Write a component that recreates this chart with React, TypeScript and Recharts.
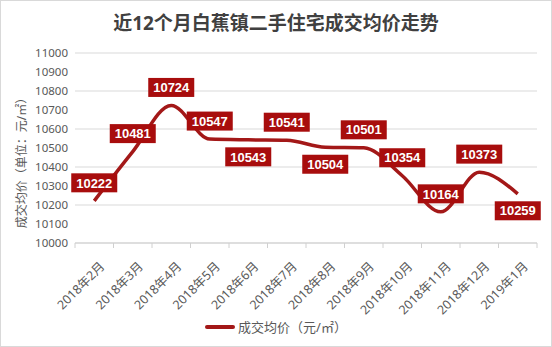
import { CartesianGrid, LabelList, Legend, Line, LineChart, XAxis, YAxis } from 'recharts'

const months = [
  '2018年2月', '2018年3月', '2018年4月', '2018年5月', '2018年6月', '2018年7月',
  '2018年8月', '2018年9月', '2018年10月', '2018年11月', '2018年12月', '2019年1月',
]
const prices = [10222, 10481, 10724, 10547, 10543, 10541, 10504, 10501, 10354, 10164, 10373, 10259]
const yTicks = [10000, 10100, 10200, 10300, 10400, 10500, 10600, 10700, 10800, 10900, 11000]

// which labels sit under the point
const labelsBelow = [4, 6, 11]

const RED = '#a80d0d'
const LINE = '#a31818'
const FONT = "'Noto Sans', 'Noto Sans CJK SC', sans-serif"

const data = months.map((m, i) => ({ month: m, price: prices[i] }))

function PriceTag(props: any) {
  const { x, y, value, index } = props
  const below = labelsBelow.includes(index)
  const cy = below ? y + 17 : y - 18
  return (
    <g>
      <rect x={x - 23} y={cy - 9.5} width={46} height={19} fill={RED} />
      <text
        x={x}
        y={cy}
        dy="0.36em"
        textAnchor="middle"
        fill="#fff"
        fontSize={13}
        fontWeight={700}
        fontFamily="Arial, 'Liberation Sans', sans-serif"
      >
        {value}
      </text>
    </g>
  )
}

function MonthTick(props: any) {
  const { x, y, payload, index, width, visibleTicksCount } = props
  const step = width / visibleTicksCount
  const left = x - step / 2
  const ax = x + 5
  const ay = y + 10
  return (
    <g>
      <line x1={left} x2={left} y1={y - 8} y2={y - 3} stroke="#d0d0d0" />
      {index === visibleTicksCount - 1 && (
        <line x1={left + step} x2={left + step} y1={y - 8} y2={y - 3} stroke="#d0d0d0" />
      )}
      <text
        x={ax}
        y={ay}
        textAnchor="end"
        transform={`rotate(-45, ${ax}, ${ay})`}
        fill="#595959"
        fontSize={12.5}
        fontFamily={FONT}
        dy="0.7em"
      >
        {payload.value}
      </text>
    </g>
  )
}

function LegendBox() {
  return (
    <div style={{ display: 'flex', alignItems: 'center', justifyContent: 'center', fontFamily: FONT, fontSize: 13, color: '#595959' }}>
      <span style={{ display: 'inline-block', width: 30, height: 4, borderRadius: 2, background: LINE, marginRight: 3 }} />
      <span>成交均价（元/㎡）</span>
    </div>
  )
}

export default function App() {
  return (
    <div style={{ position: 'relative', width: 552, height: 347, background: '#fff' }}>
      <style>{'body{margin:0}'}</style>
      <div
        style={{
          position: 'absolute', top: 10, left: 0, width: 552, textAlign: 'center',
          fontFamily: FONT, fontWeight: 700, fontSize: 19, color: '#404040', lineHeight: '26px',
        }}
      >
        近12个月白蕉镇二手住宅成交均价走势
      </div>
      <LineChart width={552} height={347} data={data} margin={{ top: 53, right: 15, left: 15, bottom: 10 }}>
        <CartesianGrid stroke="#d9d9d9" vertical={false} />
        <XAxis
          dataKey="month"
          scale="band"
          height={74}
          axisLine={{ stroke: '#d0d0d0' }}
          tickLine={false}
          tick={<MonthTick />}
          interval={0}
        />
        <YAxis
          width={60}
          domain={[10000, 11000]}
          ticks={yTicks}
          axisLine={false}
          tickLine={false}
          tickSize={0}
          tickMargin={7}
          tick={{ fill: '#595959', fontSize: 11.5, fontFamily: FONT }}
          label={{
            content: () => (
              <text
                transform="translate(22,160) rotate(-90)"
                textAnchor="middle"
                dy="0.35em"
                fill="#595959"
                fontSize={12}
                fontFamily={FONT}
              >
                成交均价（单位：元/㎡）
              </text>
            ),
          }}
        />
        <Legend verticalAlign="bottom" height={20} content={<LegendBox />} />
        <Line
          type="monotone"
          dataKey="price"
          stroke={LINE}
          strokeWidth={3.5}
          dot={false}
          activeDot={false}
          isAnimationActive={false}
        >
          <LabelList dataKey="price" content={<PriceTag />} />
        </Line>
      </LineChart>
      <div style={{ position: 'absolute', inset: 0, border: '1px solid #d9d9d9', pointerEvents: 'none' }} />
    </div>
  )
}
